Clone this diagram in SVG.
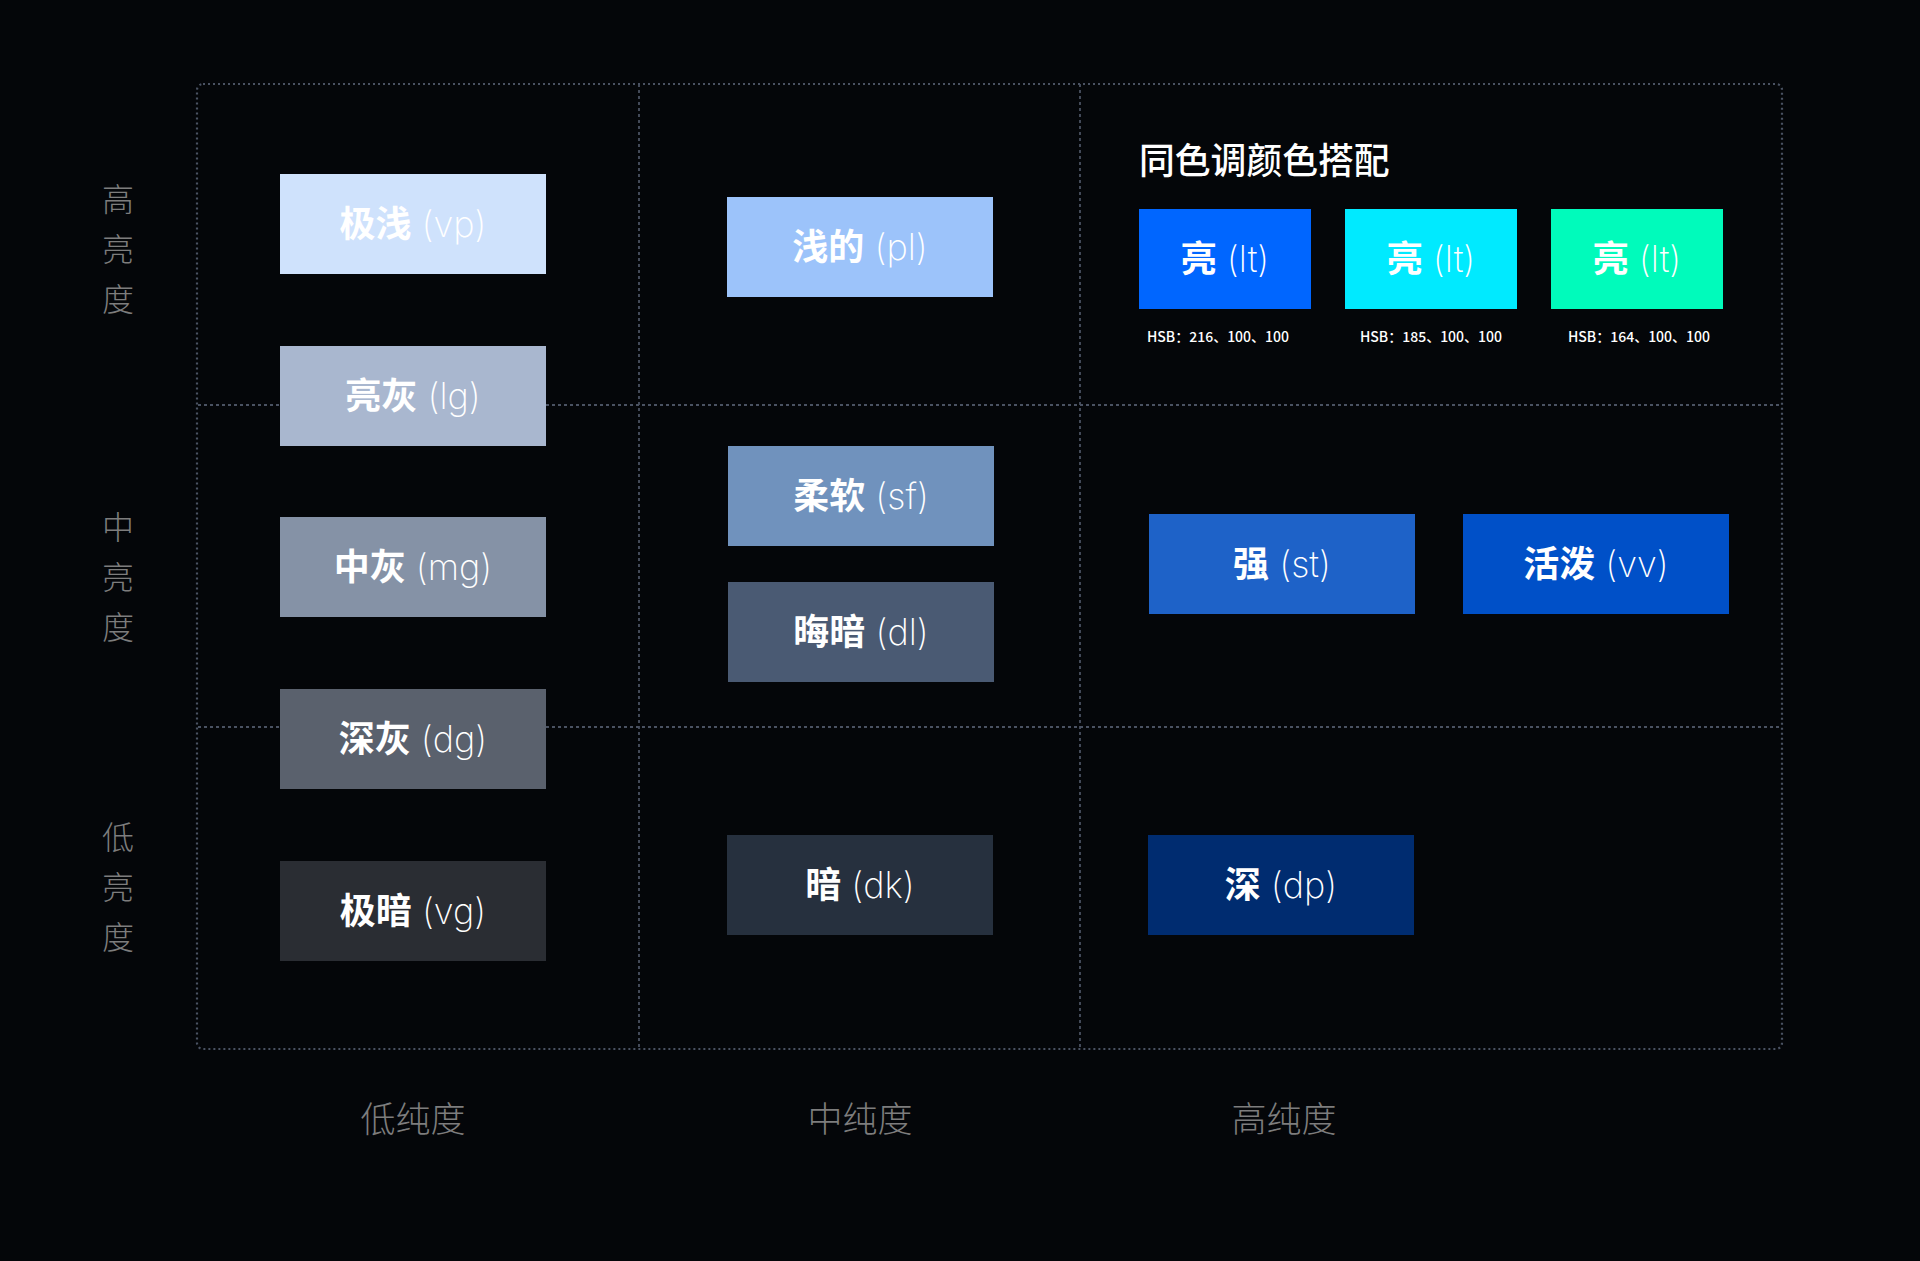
<svg xmlns="http://www.w3.org/2000/svg" width="1920" height="1261" viewBox="0 0 1920 1261">
<style>
.bg{fill:#040609}
.outer{fill:none;stroke:#4a5262;stroke-width:2.2;stroke-dasharray:2 3}
.div{fill:none;stroke:#4a5262;stroke-width:1.8;stroke-dasharray:3 3}
.lbl{font-family:"Noto Sans CJK SC","Noto Sans",sans-serif;font-size:36px;fill:#ffffff;text-anchor:middle}
.lbl .cn{font-weight:700}
.lbl .en{font-family:Inter,"Noto Sans",sans-serif;font-weight:200}
.axis{font-family:"Noto Sans CJK SC",sans-serif;font-size:32px;fill:#7d7d7d;text-anchor:middle;font-weight:300}
.bottom{font-size:35px}
.hsb{font-family:"Noto Sans CJK SC","Noto Sans",sans-serif;font-size:14px;fill:#ffffff;text-anchor:middle;font-weight:500}
.title{font-family:"Noto Sans CJK SC",sans-serif;font-size:35.8px;fill:#ffffff;font-weight:500}
</style>
<rect class="bg" x="0" y="0" width="1920" height="1261"/>
<g id="grid">
<line class="div" x1="639" y1="84" x2="639" y2="1048"/>
<line class="div" x1="1080" y1="84" x2="1080" y2="1048"/>
<line class="div" x1="198" y1="405" x2="1781" y2="405"/>
<line class="div" x1="198" y1="727" x2="1781" y2="727"/>
<rect class="outer" x="197" y="84" width="1585" height="965" rx="6"/>
</g>
<g id="axis-labels">
<text class="axis" x="118" y="211">高</text>
<text class="axis" x="118" y="261">亮</text>
<text class="axis" x="118" y="311">度</text>
<text class="axis" x="118" y="539">中</text>
<text class="axis" x="118" y="589">亮</text>
<text class="axis" x="118" y="639">度</text>
<text class="axis" x="118" y="849">低</text>
<text class="axis" x="118" y="899">亮</text>
<text class="axis" x="118" y="949">度</text>
<text class="axis bottom" x="413" y="1132">低纯度</text>
<text class="axis bottom" x="860" y="1132">中纯度</text>
<text class="axis bottom" x="1284" y="1132">高纯度</text>
</g>
<g id="node-vp"><rect x="280" y="174" width="266" height="100" fill="#cfe2fc"/><text class="lbl" x="413" y="237"><tspan class="cn">极浅</tspan><tspan class="en"> (vp)</tspan></text></g>
<g id="node-lg"><rect x="280" y="346" width="266" height="100" fill="#a9b7cf"/><text class="lbl" x="413" y="409"><tspan class="cn">亮灰</tspan><tspan class="en"> (lg)</tspan></text></g>
<g id="node-mg"><rect x="280" y="517" width="266" height="100" fill="#8592a6"/><text class="lbl" x="413" y="580"><tspan class="cn">中灰</tspan><tspan class="en"> (mg)</tspan></text></g>
<g id="node-dg"><rect x="280" y="689" width="266" height="100" fill="#5a616d"/><text class="lbl" x="413" y="752"><tspan class="cn">深灰</tspan><tspan class="en"> (dg)</tspan></text></g>
<g id="node-vg"><rect x="280" y="861" width="266" height="100" fill="#2a2d33"/><text class="lbl" x="413" y="924"><tspan class="cn">极暗</tspan><tspan class="en"> (vg)</tspan></text></g>
<g id="node-pl"><rect x="727" y="197" width="266" height="100" fill="#9cc3fa"/><text class="lbl" x="860" y="260"><tspan class="cn">浅的</tspan><tspan class="en"> (pl)</tspan></text></g>
<g id="node-sf"><rect x="728" y="446" width="266" height="100" fill="#7092bd"/><text class="lbl" x="861" y="509"><tspan class="cn">柔软</tspan><tspan class="en"> (sf)</tspan></text></g>
<g id="node-dl"><rect x="728" y="582" width="266" height="100" fill="#4a5a73"/><text class="lbl" x="861" y="645"><tspan class="cn">晦暗</tspan><tspan class="en"> (dl)</tspan></text></g>
<g id="node-dk"><rect x="727" y="835" width="266" height="100" fill="#26303e"/><text class="lbl" x="860" y="898"><tspan class="cn">暗</tspan><tspan class="en"> (dk)</tspan></text></g>
<g id="title"><text class="title" x="1139" y="174">同色调颜色搭配</text></g>
<g id="node-lt1"><rect x="1139" y="209" width="172" height="100" fill="#0066ff"/><text class="lbl" x="1225" y="272"><tspan class="cn">亮</tspan><tspan class="en"> (lt)</tspan></text><text class="hsb" x="1218" y="342">HSB：216、100、100</text></g>
<g id="node-lt2"><rect x="1345" y="209" width="172" height="100" fill="#00eaff"/><text class="lbl" x="1431" y="272"><tspan class="cn">亮</tspan><tspan class="en"> (lt)</tspan></text><text class="hsb" x="1431" y="342">HSB：185、100、100</text></g>
<g id="node-lt3"><rect x="1551" y="209" width="172" height="100" fill="#00fbbb"/><text class="lbl" x="1637" y="272"><tspan class="cn">亮</tspan><tspan class="en"> (lt)</tspan></text><text class="hsb" x="1639" y="342">HSB：164、100、100</text></g>
<g id="node-st"><rect x="1149" y="514" width="266" height="100" fill="#1e62c8"/><text class="lbl" x="1282" y="577"><tspan class="cn">强</tspan><tspan class="en"> (st)</tspan></text></g>
<g id="node-vv"><rect x="1463" y="514" width="266" height="100" fill="#0050c8"/><text class="lbl" x="1596" y="577"><tspan class="cn">活泼</tspan><tspan class="en"> (vv)</tspan></text></g>
<g id="node-dp"><rect x="1148" y="835" width="266" height="100" fill="#002c70"/><text class="lbl" x="1281" y="898"><tspan class="cn">深</tspan><tspan class="en"> (dp)</tspan></text></g>
</svg>
